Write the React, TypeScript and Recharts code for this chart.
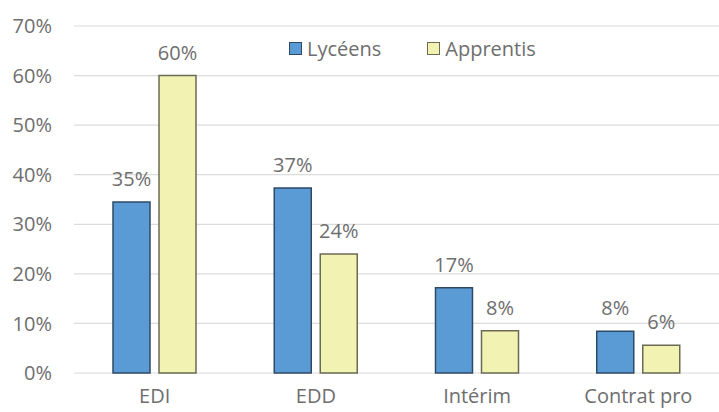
import React from 'react';
import { BarChart, Bar, XAxis, YAxis, CartesianGrid, LabelList } from 'recharts';

const CATEGORIES = ['EDI', 'EDD', 'Intérim', 'Contrat pro'];
const LYCEENS = [34.5, 37.3, 17.2, 8.4];
const APPRENTIS = [60, 24, 8.5, 5.6];
const LYCEENS_LABELS = ['35%', '37%', '17%', '8%'];
const APPRENTIS_LABELS = ['60%', '24%', '8%', '6%'];
const Y_TICKS = [0, 10, 20, 30, 40, 50, 60, 70];

const data = CATEGORIES.map((c, i) => ({
  name: c,
  lyceens: LYCEENS[i],
  apprentis: APPRENTIS[i],
  lLabel: LYCEENS_LABELS[i],
  aLabel: APPRENTIS_LABELS[i],
}));

const FONT = '"Open Sans", sans-serif';
const TEXT = '#6e6e6e';
const BLUE = '#5b9bd5';
const BLUE_EDGE = '#2e4a66';
const YELLOW = '#f2f2b3';
const YELLOW_EDGE = '#6b6b55';

const LegendBox = () => (
  <div style={{ position: 'absolute', top: 35, left: 289, display: 'flex', alignItems: 'center', fontFamily: FONT, fontSize: 20, color: TEXT }}>
    <span style={{ width: 11, height: 11, background: BLUE, border: `1px solid ${BLUE_EDGE}`, marginRight: 5 }} />
    <span style={{ marginRight: 46 }}>Lycéens</span>
    <span style={{ width: 11, height: 11, background: YELLOW, border: `1px solid ${YELLOW_EDGE}`, marginRight: 5 }} />
    <span>Apprentis</span>
  </div>
);

export default function App() {
  return (
    <div style={{ position: 'absolute', top: 0, left: 0, width: 719, height: 412, background: '#fff' }}>
      <BarChart
        width={719}
        height={412}
        data={data}
        margin={{ top: 26, right: 0, bottom: 9, left: 0 }}
        barSize={37}
        barGap={9}
      >
        <CartesianGrid vertical={false} stroke="#dcdcdc" strokeWidth={1.2} />
        <XAxis
          dataKey="name"
          axisLine={false}
          tickLine={false}
          padding={{ left: 0, right: 0 }}
          height={30}
          tick={{ fontFamily: FONT, fontSize: 20, fill: TEXT }}
          tickMargin={10}
        />
        <YAxis
          domain={[0, 70]}
          ticks={Y_TICKS}
          width={74}
          axisLine={false}
          tickLine={false}
          tickMargin={16}
          tickFormatter={(v: number) => `${v}%`}
          tick={{ fontFamily: FONT, fontSize: 20, fill: TEXT }}
        />
        <Bar dataKey="lyceens" fill={BLUE} stroke={BLUE_EDGE} strokeWidth={1.5} isAnimationActive={false}>
          <LabelList dataKey="lLabel" position="top" offset={16} style={{ fontFamily: FONT, fontSize: 20, fill: TEXT }} />
        </Bar>
        <Bar dataKey="apprentis" fill={YELLOW} stroke={YELLOW_EDGE} strokeWidth={1.5} isAnimationActive={false}>
          <LabelList dataKey="aLabel" position="top" offset={16} style={{ fontFamily: FONT, fontSize: 20, fill: TEXT }} />
        </Bar>
      </BarChart>
      <LegendBox />
    </div>
  );
}
